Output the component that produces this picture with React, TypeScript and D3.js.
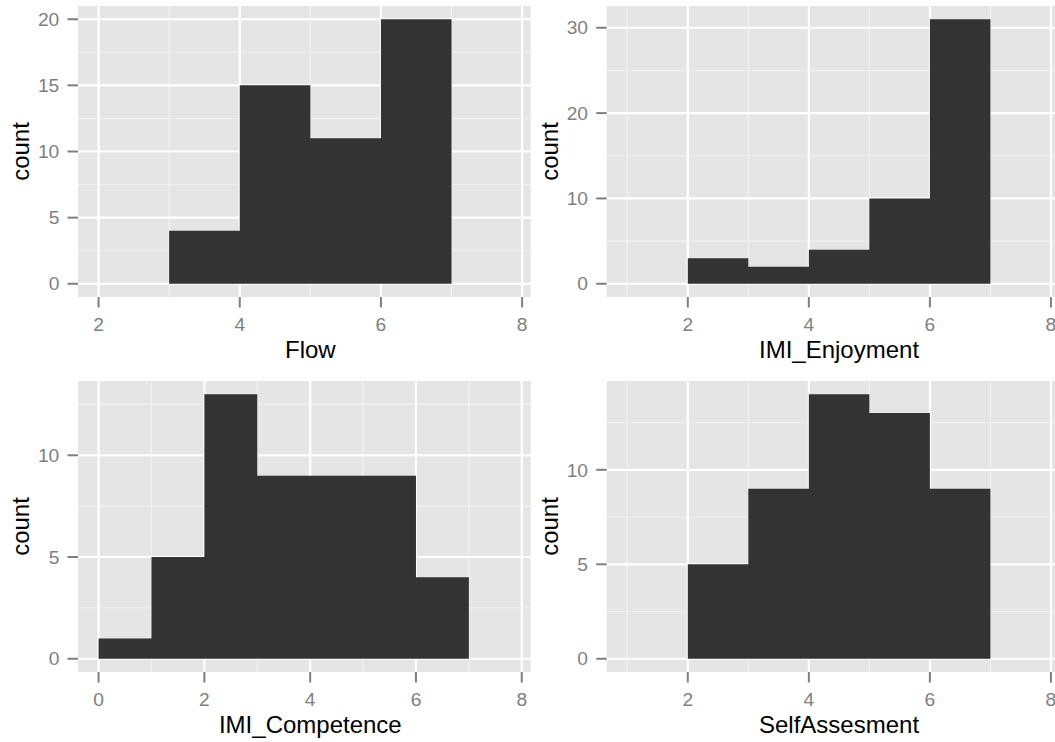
import React from 'react';
import * as d3 from 'd3';

// ---- data (histograms, binwidth = 1) ----
const flowBinStarts = [3, 4, 5, 6];
const flowCounts = [4, 15, 11, 20];
const enjoymentBinStarts = [2, 3, 4, 5, 6];
const enjoymentCounts = [3, 2, 4, 10, 31];
const competenceBinStarts = [0, 1, 2, 3, 4, 5, 6];
const competenceCounts = [1, 5, 13, 9, 9, 9, 4];
const selfBinStarts = [2, 3, 4, 5, 6];
const selfCounts = [5, 9, 14, 13, 9];
const binWidth = 1;

// x-scale data ranges (trained ranges)
const flowXRange = [2, 7.83];
const enjoymentXRange = [1, 7.8];
const competenceXRange = [0, 7.78];
const selfXRange = [1, 7.8];

// tick labels
const flowXTicks = [2, 4, 6, 8];
const enjoymentXTicks = [2, 4, 6, 8];
const competenceXTicks = [0, 2, 4, 6, 8];
const selfXTicks = [2, 4, 6, 8];
const flowYTicks = [0, 5, 10, 15, 20];
const enjoymentYTicks = [0, 10, 20, 30];
const competenceYTicks = [0, 5, 10];
const selfYTicks = [0, 5, 10];

const xTitles = ['Flow', 'IMI_Enjoyment', 'IMI_Competence', 'SelfAssesment'];
const yTitle = 'count';

const panels = [
  { starts: flowBinStarts, counts: flowCounts, xr: flowXRange, xt: flowXTicks, yt: flowYTicks, title: xTitles[0], col: 0, row: 0 },
  { starts: enjoymentBinStarts, counts: enjoymentCounts, xr: enjoymentXRange, xt: enjoymentXTicks, yt: enjoymentYTicks, title: xTitles[1], col: 1, row: 0 },
  { starts: competenceBinStarts, counts: competenceCounts, xr: competenceXRange, xt: competenceXTicks, yt: competenceYTicks, title: xTitles[2], col: 0, row: 1 },
  { starts: selfBinStarts, counts: selfCounts, xr: selfXRange, xt: selfXTicks, yt: selfYTicks, title: xTitles[3], col: 1, row: 1 },
];

const W = 1055;
const H = 742;
const colLeft = [78, 606.7];
const panelW = 452.7;
const rowTop = [6, 381];
const panelH = 291;
const FONT = '"Liberation Sans", Arial, Helvetica, sans-serif';
const tickColor = '#7F7F7F';
const tickLen = 10.5;

function minorBreaks(major: number[], domain: number[]) {
  const step = major[1] - major[0];
  const out: number[] = [];
  for (let v = major[0] - step / 2; v <= major[major.length - 1] + step / 2 + 1e-9; v += step) {
    if (v > domain[0] && v < domain[1]) out.push(v);
  }
  return out;
}

function Panel({ p }: { p: any }) {
  const left = colLeft[p.col];
  const top = rowTop[p.row];
  const xr = p.xr;
  const xe = (xr[1] - xr[0]) * 0.05;
  const x = d3.scaleLinear().domain([xr[0] - xe, xr[1] + xe]).range([left, left + panelW]);
  const ymax = d3.max(p.counts as number[]) as number;
  const ye = ymax * 0.05;
  const y = d3.scaleLinear().domain([-ye, ymax + ye]).range([top + panelH, top]);
  const xMinor = minorBreaks(p.xt, x.domain());
  const yMinor = minorBreaks(p.yt, y.domain());
  const xMajor = (p.xt as number[]).filter((v) => v >= x.domain()[0] && v <= x.domain()[1]);
  const bottom = top + panelH;
  const cx = left + panelW / 2 + 6;
  const cy = top + panelH / 2;

  // histogram outline as one step path (no seams between bars)
  const starts = p.starts as number[];
  const counts = p.counts as number[];
  const path = d3.path();
  path.moveTo(x(starts[0]), y(0));
  starts.forEach((s, i) => {
    path.lineTo(x(s), y(counts[i]));
    path.lineTo(x(s + binWidth), y(counts[i]));
  });
  path.lineTo(x(starts[starts.length - 1] + binWidth), y(0));
  path.closePath();

  return (
    <g>
      <rect x={left} y={top} width={panelW} height={panelH} fill="#E5E5E5" />
      {xMinor.map((v) => (
        <line key={'xm' + v} x1={x(v)} x2={x(v)} y1={top} y2={bottom} stroke="#F2F2F2" strokeWidth={1.1} />
      ))}
      {yMinor.map((v) => (
        <line key={'ym' + v} x1={left} x2={left + panelW} y1={y(v)} y2={y(v)} stroke="#F2F2F2" strokeWidth={1.1} />
      ))}
      {xMajor.map((v) => (
        <line key={'xM' + v} x1={x(v)} x2={x(v)} y1={top} y2={bottom} stroke="#FFFFFF" strokeWidth={2.2} />
      ))}
      {(p.yt as number[]).map((v) => (
        <line key={'yM' + v} x1={left} x2={left + panelW} y1={y(v)} y2={y(v)} stroke="#FFFFFF" strokeWidth={2.2} />
      ))}
      <path d={path.toString()} fill="#333333" />
      {/* x axis */}
      {xMajor.map((v) => (
        <g key={'xt' + v}>
          <line x1={x(v)} x2={x(v)} y1={bottom} y2={bottom + tickLen} stroke={tickColor} strokeWidth={2} />
          <text x={x(v)} y={bottom + 34.2} textAnchor="middle" fontSize={19.2} fill={tickColor} fontFamily={FONT}>
            {v}
          </text>
        </g>
      ))}
      {/* y axis */}
      {(p.yt as number[]).map((v) => (
        <g key={'yt' + v}>
          <line x1={left - tickLen} x2={left} y1={y(v)} y2={y(v)} stroke={tickColor} strokeWidth={2} />
          <text x={left - 18.7} y={y(v)} dy="0.35em" textAnchor="end" fontSize={19.2} fill={tickColor} fontFamily={FONT}>
            {v}
          </text>
        </g>
      ))}
      <text x={cx} y={bottom + 60.8} textAnchor="middle" fontSize={24} fill="#000" fontFamily={FONT}>
        {p.title}
      </text>
      <text
        transform={`translate(${left - 48.7},${cy}) rotate(-90)`}
        textAnchor="middle"
        fontSize={24}
        fill="#000"
        fontFamily={FONT}
      >
        {yTitle}
      </text>
    </g>
  );
}

export default function App() {
  return (
    <svg
      width={W}
      height={H}
      viewBox={`0 0 ${W} ${H}`}
      style={{ position: 'absolute', left: 0, top: 0, background: '#fff' }}
    >
      <rect x={0} y={0} width={W} height={H} fill="#fff" />
      {panels.map((p, i) => (
        <Panel key={i} p={p} />
      ))}
    </svg>
  );
}
